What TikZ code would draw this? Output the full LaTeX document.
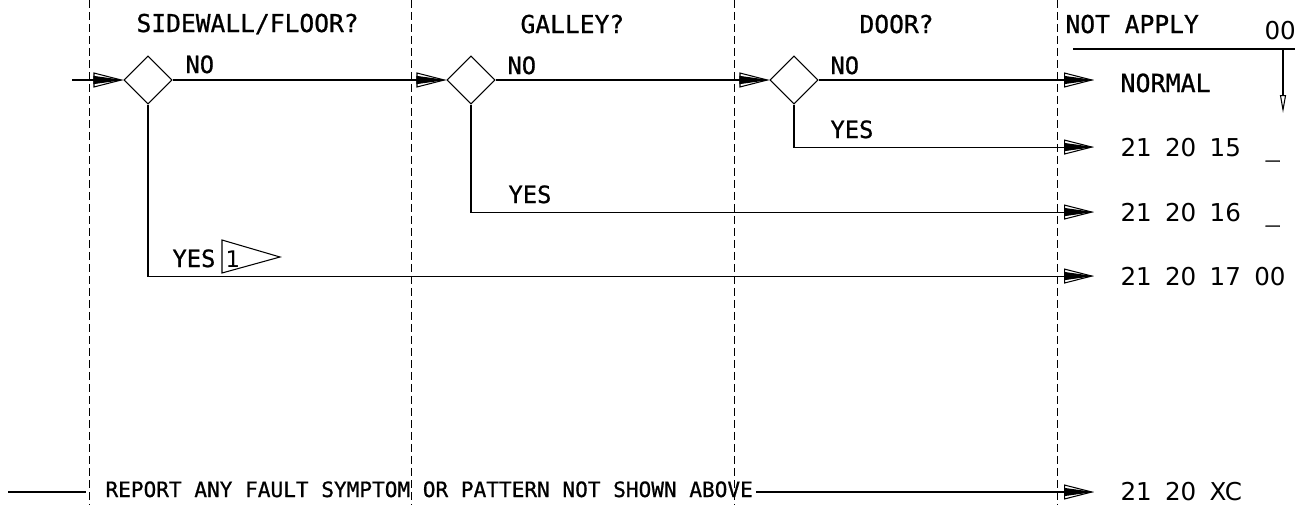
\documentclass[tikz,border=0pt]{standalone}
\usepackage{fontspec}
\setmainfont{DejaVu Sans Mono}[FakeBold=0.8]
\newfontfamily\codefont{DejaVu Sans}[WordSpace=1.7]
\usetikzlibrary{arrows.meta, shapes.geometric}

\begin{document}
\begin{tikzpicture}[
    x=0.02cm, y=-0.02cm,
    line width=0.6pt,
    every node/.style={inner sep=0pt},
    colsep/.style={dash pattern=on 0.16cm off 0.08cm, line width=0.5pt},
    decision/.style={draw, diamond, aspect=1, minimum width=0.96cm, minimum height=0.96cm},
    head/.style={anchor=base west, font=\fontsize{14}{16}\selectfont},
    lbl/.style={anchor=base west, font=\fontsize{13.5}{16}\selectfont},
    code/.style={anchor=base west, inner xsep=0.52cm, font=\codefont\fontsize{14}{16}\selectfont},
    arr/.style={-{Triangle[open,length=0.6cm,width=0.3cm,sep=-0.6cm] Triangle[length=0.6cm,width=0.16cm]}},
    darr/.style={-{Triangle[open,length=0.36cm,width=0.12cm]}},
]
\useasboundingbox (0,0) rectangle (1295,504);

% column separators
\foreach \x in {89,411,734,1057}
    \draw[colsep] (\x,0) -- (\x,504);

% column heads
\node[head] (hside) at (136,32) {SIDEWALL/FLOOR?};
\node[head] (hgalley) at (520,33) {GALLEY?};
\node[head] (hdoor) at (859,33) {DOOR?};
\node[head] (hnot) at (1065,33) {NOT APPLY};
\node[head, font=\codefont\fontsize{14}{16}\selectfont] (hzero) at (1264,39) {00};

% decisions
\node[decision] (sidewall) at (148,80) {};
\node[decision] (galley) at (471,80) {};
\node[decision] (door) at (794,80) {};

\node[lbl] (no1) at (185,73) {NO};
\node[lbl] (no2) at (507,74) {NO};
\node[lbl] (no3) at (830,74) {NO};
\node[lbl] (yes3) at (830,138) {YES};
\node[lbl] (yes2) at (508,203) {YES};
\node[lbl] (yes1) at (172,267) {YES};

% note flag
\draw (222,240) -- (280,257) -- (222,273) -- cycle;
\node[anchor=base west, font=\codefont\fontsize{13}{14}\selectfont] (noteone) at (225,267) {1};

% results
\node[code, font=\fontsize{14.2}{16}\selectfont] (normal) at (1094,92) {NORMAL};
\node[code] (c15) at (1094,156) {21 20 15};
\node[code] (c16) at (1094,221) {21 20 16};
\node[code] (c17) at (1094,285) {21 20 17 00};
\node[code] (cxc) at (1094,500) {21 20 XC};
\node[lbl] (u15) at (1265,156) {\_};
\node[lbl] (u16) at (1265,221) {\_};

\node[anchor=base west, inner xsep=0.06cm, font=\fontsize{12}{14}\selectfont] (report) at (102,497)
    {REPORT ANY FAULT SYMPTOM OR PATTERN NOT SHOWN ABOVE};

% flow
\coordinate (entry) at (72,80);
\draw[arr] (entry) -- (sidewall.west);
\draw[arr] (sidewall.east) -- (galley.west);
\draw[arr] (galley.east) -- (door.west);
\draw[arr] (door.east) -- (door.east -| normal.west);
\draw[arr] (door.south) |- (c15.west);
\draw[arr] (galley.south) |- (c16.west);
\draw[arr] (sidewall.south) |- (c17.west);

\coordinate (rin) at (8,492);
\coordinate (rstop) at (86,492);
\draw (rin) -- (rstop);
\draw[arr] (report.east |- rin) -- (rin -| cxc.west);

% not apply bracket
\coordinate (nastart) at (1073,49);
\coordinate (naend) at (1295,49);
\draw (nastart) -- (naend);
\coordinate (downtop) at (1283,49);
\coordinate (downend) at (1283,113);
\draw[darr] (downtop) -- (downend);

\end{tikzpicture}
\end{document}
